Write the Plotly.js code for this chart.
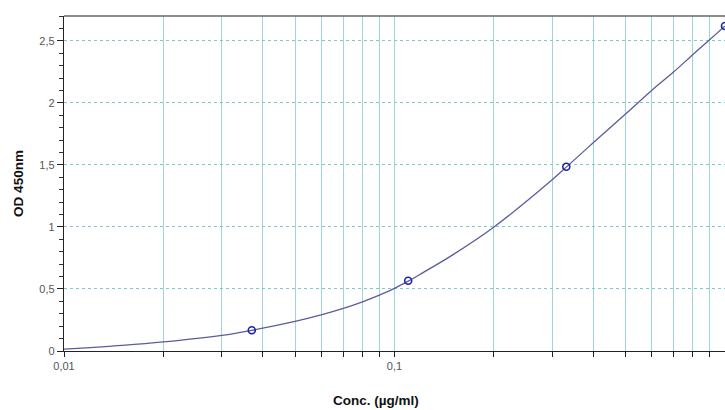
<!DOCTYPE html>
<html>
<head>
<meta charset="utf-8">
<script src="https://cdn.plot.ly/plotly-3.0.1.min.js"></script>
<style>html,body{margin:0;padding:0;background:#fff;}#chart{width:725px;height:410px;}</style>
</head>
<body>
<div id="chart"></div>
<script>
// Measured standard points
const pointConc = [0.037, 0.11, 0.331, 1.0];
const pointOD = [0.167, 0.566, 1.485, 2.62];

// Fitted curve
const curveConc = [0.01, 0.012, 0.015, 0.02, 0.03, 0.037, 0.05, 0.06, 0.07, 0.08, 0.09, 0.1, 0.11, 0.119, 0.15, 0.2, 0.3, 0.331, 0.4, 0.5, 0.6, 0.7, 0.8, 0.9, 1.0];
const curveOD = [0.015, 0.028, 0.045, 0.073, 0.126, 0.167, 0.239, 0.291, 0.343, 0.396, 0.45, 0.505, 0.563, 0.615, 0.775, 1.0, 1.38, 1.482, 1.68, 1.91, 2.10, 2.25, 2.39, 2.51, 2.62];

// Tick labels
const xTickVals = [0.01,0.02,0.03,0.04,0.05,0.06,0.07,0.08,0.09,0.1,0.2,0.3,0.4,0.5,0.6,0.7,0.8,0.9,1];
const xTickText = ['0,01','','','','','','','','','0,1','','','','','','','','','1'];
const yTickVals = [0, 0.5, 1, 1.5, 2, 2.5];
const yTickText = ['0', '0,5', '1', '1,5', '2', '2,5'];

const traces = [
  {x: curveConc, y: curveOD, type: 'scatter', mode: 'lines',
   line: {color: '#5a5c9e', width: 1.3, shape: 'spline', smoothing: 1},
   hoverinfo: 'skip', showlegend: false},
  {x: pointConc, y: pointOD, type: 'scatter', mode: 'markers',
   marker: {symbol: 'circle-open', size: 7, color: '#1c22a8', line: {width: 1.6, color: '#1c22a8'}},
   showlegend: false}
];

const layout = {
  width: 725, height: 410,
  margin: {l: 64, r: 0, t: 16, b: 59},
  paper_bgcolor: '#ffffff', plot_bgcolor: '#ffffff',
  font: {family: 'Liberation Sans, Arial, sans-serif', size: 11, color: '#555'},
  xaxis: {
    type: 'log', range: [-2, 0],
    tickvals: xTickVals, ticktext: xTickText,
    ticks: 'outside', ticklen: 5, tickcolor: '#222', tickwidth: 1,
    showline: true, linecolor: '#222', linewidth: 1.2, mirror: false,
    showgrid: true, gridcolor: '#9fd4d9', gridwidth: 1,
    zeroline: false,
    tickfont: {size: 11, color: '#555'}
  },
  yaxis: {
    range: [0, 2.7],
    tickvals: yTickVals, ticktext: yTickText,
    ticks: 'outside', ticklen: 6, tickcolor: '#222', tickwidth: 1,
    minor: {dtick: 0.1, tick0: 0, ticks: 'outside', ticklen: 4, tickcolor: '#333', showgrid: false},
    showline: true, linecolor: '#222', linewidth: 1.2,
    showgrid: true, gridcolor: '#7ec9cd', griddash: 'dot', gridwidth: 1,
    zeroline: false,
    tickfont: {size: 11, color: '#555'},
    title: {text: 'OD 450nm', font: {size: 13.5, color: '#111', family: 'Liberation Sans, Arial, sans-serif', weight: 'bold'}, standoff: 12}
  },
  shapes: [
    {type: 'line', xref: 'paper', yref: 'paper', x0: 0, x1: 1, y0: 1, y1: 1, line: {color: '#666', width: 1.5}}
  ],
  annotations: [
    {text: '<b>Conc. (µg/ml)</b>', xref: 'paper', yref: 'paper', x: 0.472, y: -0.149, xanchor: 'center', yanchor: 'middle', showarrow: false,
     font: {size: 13.5, color: '#111', family: 'Liberation Sans, Arial, sans-serif'}}
  ]
};

Plotly.newPlot('chart', traces, layout, {displayModeBar: false, staticPlot: true});
</script>
</body>
</html>
